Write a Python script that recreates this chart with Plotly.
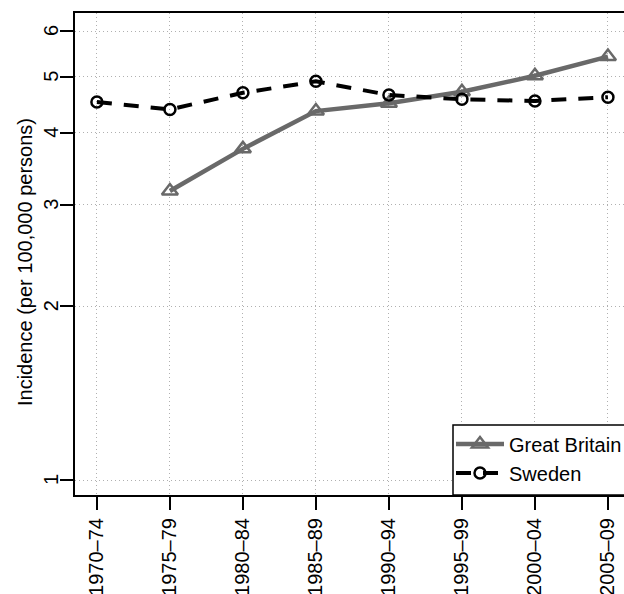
import plotly.graph_objects as go
import math

periods = ["1970\u201374", "1975\u201379", "1980\u201384", "1985\u201389",
           "1990\u201394", "1995\u201399", "2000\u201304", "2005\u201309"]
great_britain = [None, 3.17, 3.75, 4.36, 4.50, 4.71, 5.02, 5.42]
sweden = [4.52, 4.39, 4.69, 4.91, 4.65, 4.57, 4.54, 4.61]
y_ticks = [1, 2, 3, 4, 5, 6]

FONT = "Liberation Sans, Arial, Helvetica, sans-serif"
FS = 20
x_idx = list(range(len(periods)))

W, H = 624, 594
L, T, R, B = 75, 13, 0, 99
PW, PH = W - L - R, H - T - B


def px_x(page_x):
    return (page_x - L) / PW


def px_y(page_y):
    return (H - B - page_y) / PH


fig = go.Figure()
fig.add_trace(go.Scatter(
    x=x_idx, y=great_britain, name="Great Britain", mode="lines+markers",
    line=dict(color="#696969", width=4.5),
    marker=dict(symbol="triangle-up-open", size=14, color="#696969",
                line=dict(width=2.5, color="#696969")),
))
fig.add_trace(go.Scatter(
    x=x_idx, y=sweden, name="Sweden", mode="lines+markers",
    line=dict(color="black", width=4, dash="15px,12px"),
    marker=dict(symbol="circle-open", size=11, color="black",
                line=dict(width=2.5, color="black")),
))

# legend box (extends past the right edge like the reference)
fig.add_shape(type="rect", xref="paper", yref="paper",
              x0=px_x(453), x1=1.2, y0=0, y1=px_y(425),
              line=dict(color="black", width=1.5), fillcolor="white", layer="above")

# y-axis title
fig.add_annotation(text="Incidence (per 100,000 persons)", xref="paper", yref="paper",
                   x=0, y=px_y(262), xanchor="center", yanchor="middle",
                   xshift=-(L - 25), textangle=-90, showarrow=False,
                   font=dict(size=FS, color="black"))

# y tick labels (rotated, parallel to the axis)
for v in y_ticks:
    fig.add_annotation(text=str(v), xref="paper", yref="y",
                       x=0, y=math.log10(v), xanchor="center", yanchor="middle",
                       xshift=-(L - 51), textangle=-90, showarrow=False,
                       font=dict(size=FS, color="black"))

fig.update_layout(
    width=W, height=H,
    margin=dict(l=L, r=R, t=T, b=B, autoexpand=False),
    paper_bgcolor="white", plot_bgcolor="white",
    font=dict(family=FONT, size=FS, color="black"),
    showlegend=True,
    legend=dict(
        x=px_x(451), xanchor="left", y=0.005, yanchor="bottom",
        borderwidth=0, bgcolor="rgba(0,0,0,0)",
        font=dict(size=FS), tracegroupgap=0, itemwidth=48,
    ),
)
fig.update_xaxes(
    range=[-0.3, 7.22], tickmode="array", tickvals=x_idx, ticktext=periods,
    tickangle=-90, ticks="outside", ticklen=13, tickwidth=2, tickcolor="black",
    ticklabelstandoff=0,
    showline=True, linecolor="black", linewidth=2, mirror=True,
    showgrid=True, gridcolor="#b0b0b0", griddash="1px,3px", gridwidth=1,
    zeroline=False, tickfont=dict(size=FS), automargin=False,
)
fig.update_yaxes(
    type="log", range=[math.log10(0.942), math.log10(6.45)],
    tickmode="array", tickvals=y_ticks, showticklabels=False,
    ticks="outside", ticklen=13, tickwidth=2, tickcolor="black",
    showline=True, linecolor="black", linewidth=2, mirror=False,
    showgrid=True, gridcolor="#b0b0b0", griddash="1px,3px", gridwidth=1,
    zeroline=False, automargin=False,
)

fig.write_html("out.html",
               config={"displayModeBar": False},
               post_script="document.body.style.margin='0px';document.body.style.overflow='hidden';")
